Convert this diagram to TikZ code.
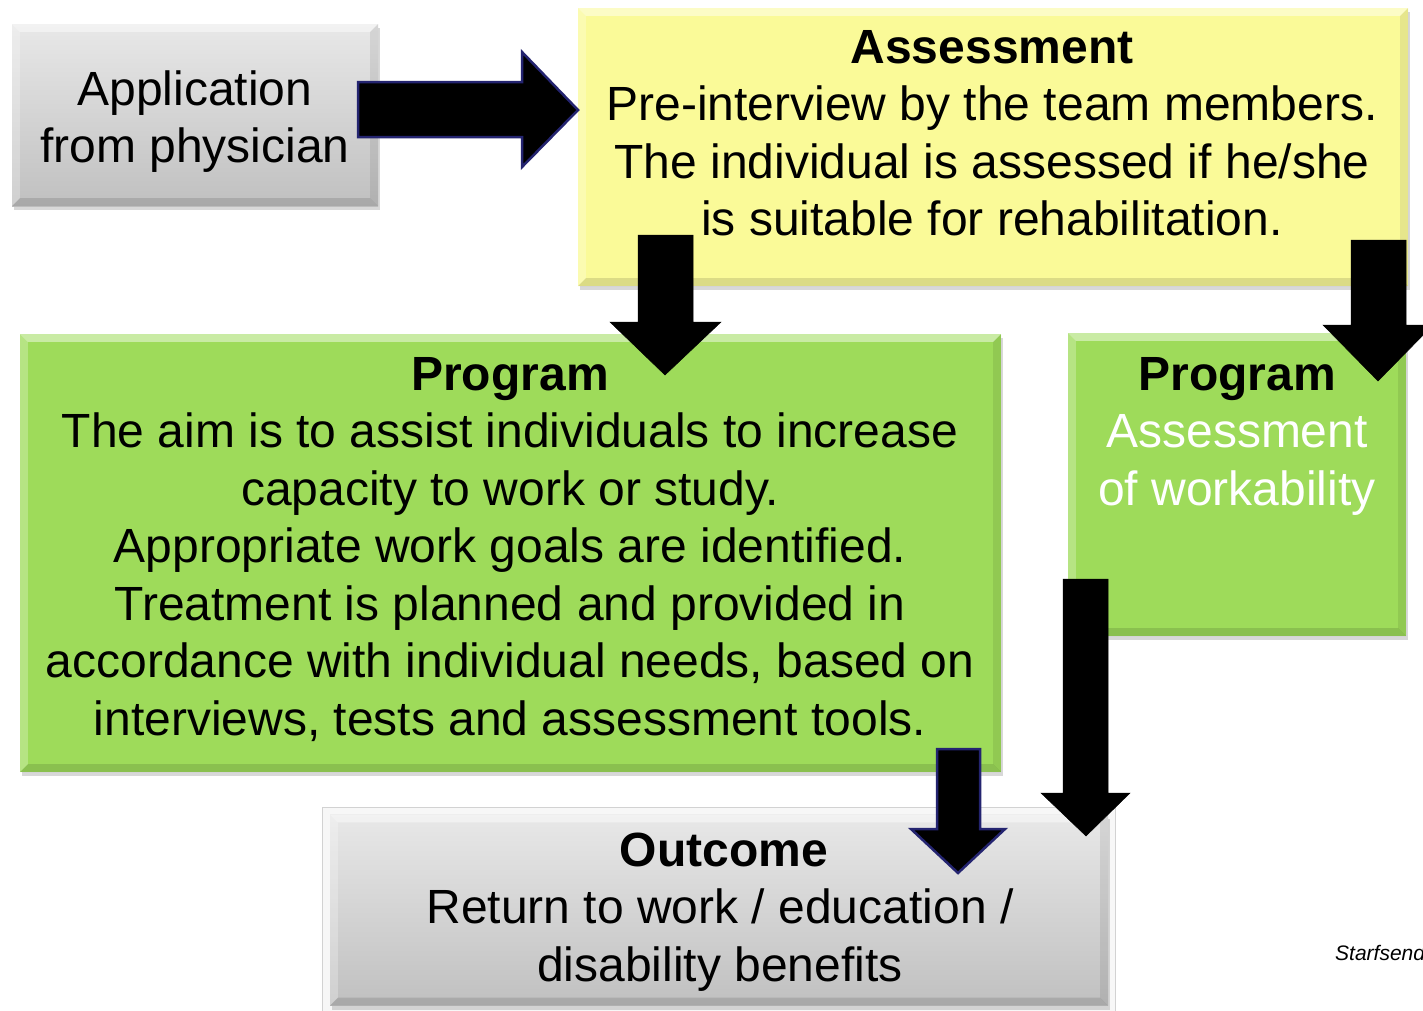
\documentclass[tikz,border=0pt]{standalone}
\usepackage{fontspec}
\setmainfont{Liberation Sans}
\usetikzlibrary{calc,shadows}
\definecolor{grayT}{RGB}{232,232,232}
\definecolor{grayB}{RGB}{192,192,192}
\definecolor{yel}{RGB}{250,250,152}
\definecolor{grn}{RGB}{158,219,90}
\definecolor{navy}{RGB}{36,36,112}
\newcommand\mybevel[2]{%
 \fill[white,opacity=.45] (#1.north west) -- (#1.north east) -- ($(#1.north east)+(-#2,#2)$) -- ($(#1.north west)+(#2,#2)$) -- cycle;
 \fill[white,opacity=.25] (#1.north west) -- ($(#1.north west)+(#2,#2)$) -- ($(#1.south west)+(#2,-#2)$) -- (#1.south west) -- cycle;
 \fill[black,opacity=.12] (#1.south west) -- (#1.south east) -- ($(#1.south east)+(-#2,-#2)$) -- ($(#1.south west)+(#2,-#2)$) -- cycle;
 \fill[black,opacity=.08] (#1.north east) -- (#1.south east) -- ($(#1.south east)+(-#2,-#2)$) -- ($(#1.north east)+(-#2,#2)$) -- cycle;
}
\tikzset{
 box/.style={rectangle, inner sep=0pt, draw=none, drop shadow={shadow xshift=2pt, shadow yshift=-4pt, opacity=.3}},
 graybox/.style={box, top color=grayT, bottom color=grayB},
 yelbox/.style={box, fill=yel},
 grnbox/.style={box, fill=grn},
 txt/.style={inner sep=0pt, anchor=base, font=\fontsize{48}{57.5}\selectfont},
 blockarrow/.style={fill=black, draw=black, line width=0.5pt, line join=miter},
 blockarrowb/.style={fill=black, draw=navy, line width=2.5pt, line join=miter},
}
\begin{document}
\begin{tikzpicture}[x=1pt,y=-1pt]
\useasboundingbox (0,0) rectangle (1423,1010);
\fill[white] (0,0) rectangle (1423,1010);
% boxes
\node[graybox, minimum width=366, minimum height=182] (app) at (195,115) {};
\mybevel{app}{8}
\node[yelbox, minimum width=830, minimum height=278] (assess) at (993,147) {};
\mybevel{assess}{8}
\node[grnbox, minimum width=981, minimum height=438] (prog) at (510.5,553) {};
\mybevel{prog}{8}
\node[grnbox, minimum width=338, minimum height=303] (progb) at (1237,484.5) {};
\mybevel{progb}{8}
\node[rectangle, fill=gray!6, draw=gray!35, line width=1pt, minimum width=793, minimum height=210, inner sep=0pt] (outframe) at (718.5,912) {};
\node[graybox, minimum width=778, minimum height=191, drop shadow={opacity=0}] (outcome) at (719,910) {};
\mybevel{outcome}{8}
% texts
\node[txt] (apptxt) at (195,105) {\begin{tabular}[t]{@{}c@{}}Application\\from physician\end{tabular}};
\node[txt] (assesstxt) at (992,63) {\begin{tabular}[t]{@{}c@{}}\textbf{Assessment}\\Pre-interview by the team members.\\The individual is assessed if he/she\\is suitable for rehabilitation.\end{tabular}};
\node[txt] (progtxt) at (510,390) {\begin{tabular}[t]{@{}c@{}}\textbf{Program}\\The aim is to assist individuals to increase\\capacity to work or study.\\Appropriate work goals are identified.\\Treatment is planned and provided in\\accordance with individual needs, based on\\interviews, tests and assessment tools.\end{tabular}};
\node[txt] (progbtxt) at (1237,390) {\begin{tabular}[t]{@{}c@{}}\textbf{Program}\\\textcolor{white}{Assessment}\\\textcolor{white}{of workability}\end{tabular}};
\node[txt] (outtxt) at (720,866) {\begin{tabular}[t]{@{}c@{}}\hspace*{8pt}\textbf{Outcome}\\Return to work / education /\\disability benefits\end{tabular}};
\node[inner sep=0pt, anchor=base west, font=\fontsize{21}{24}\selectfont\itshape] (src) at (1335,960) {Starfsend};
% arrows
\draw[blockarrowb] (358,82) -- (522,82) -- (522,52) -- (578,110) -- (522,167) -- (522,137) -- (358,137) -- cycle;
\draw[blockarrow] (638,235) -- (693,235) -- (693,322) -- (721,322) -- (665,375) -- (610,322) -- (638,322) -- cycle;
\draw[blockarrow] (1351,240) -- (1406,240) -- (1406,325) -- (1433,325) -- (1378,381) -- (1323,325) -- (1351,325) -- cycle;
\draw[blockarrowb] (937,749) -- (980,749) -- (980,829) -- (1005,829) -- (958,873) -- (911,829) -- (937,829) -- cycle;
\draw[blockarrow] (1063,579) -- (1108,579) -- (1108,793) -- (1130,793) -- (1086,836) -- (1041,793) -- (1063,793) -- cycle;
\end{tikzpicture}
\end{document}
